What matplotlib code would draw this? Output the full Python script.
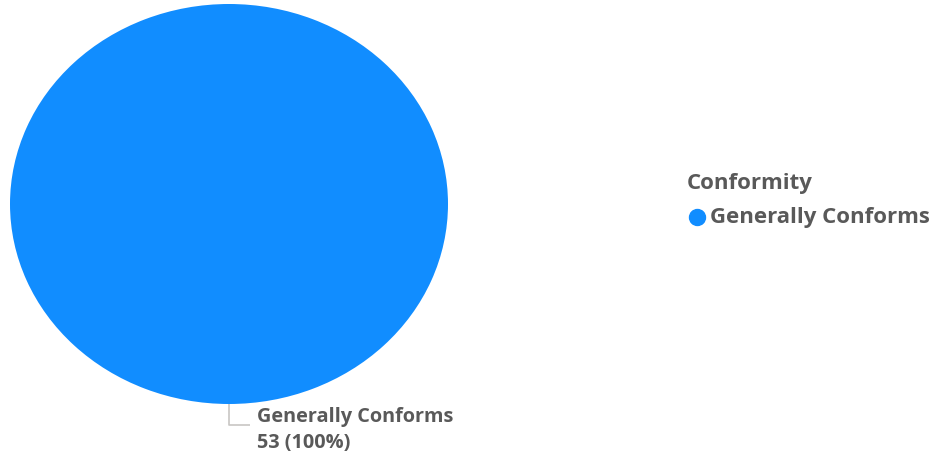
import numpy as np
import matplotlib
matplotlib.use("Agg")
import matplotlib.pyplot as plt

categories = ["Generally Conforms"]
values = [53]
legend_title = "Conformity"
colors = ["#118DFF"]

W, H = 933, 453
fig = plt.figure(figsize=(W / 100, H / 100), dpi=100)
fig.patch.set_facecolor("white")

# pie axes (pixel box -> figure coords)
left, right, top, bottom = 10, 448, 4, 404
ax = fig.add_axes([left / W, 1 - bottom / H, (right - left) / W, (bottom - top) / H])
wedges, _ = ax.pie(values, colors=colors, startangle=90, counterclock=False,
                   radius=1.0, wedgeprops=dict(linewidth=0))
ax.set_aspect("auto")
ax.set_xlim(-1, 1)
ax.set_ylim(-1, 1)
ax.axis("off")

text_color = "#595959"
total = sum(values)
font = ["Open Sans", "DejaVu Sans"]

# data label with leader line
for w, cat, v in zip(wedges, categories, values):
    mid = np.deg2rad((w.theta1 + w.theta2) / 2)
    x0, y0 = np.cos(mid), np.sin(mid)
    if v == total:
        x0, y0 = 0.0, -1.0
    ax.plot([x0, x0, x0 + 0.096], [y0, y0 - 0.105, y0 - 0.105], color="#C8C6C4",
            lw=1.2, clip_on=False, solid_capstyle="butt")
    ax.annotate(f"{cat}\n{v} ({v / total:.0%})", xy=(x0 + 0.13, y0 - 0.015),
                xycoords="data", ha="left", va="top", fontsize=14.3,
                color=text_color, fontweight="bold", family=font,
                linespacing=1.38, annotation_clip=False)

# legend
fig.text(687 / W, 1 - 183 / H, legend_title, ha="left", va="center", fontsize=16,
         color=text_color, fontweight="bold", family=font)
for i, (cat, c) in enumerate(zip(categories, colors)):
    yy = 1 - (217 + i * 26) / H
    fig.lines.append(plt.Line2D([697 / W], [yy], marker="o", markersize=11.5,
                                color=c, transform=fig.transFigure, linestyle="none"))
    fig.text(710 / W, yy, cat, ha="left", va="center", fontsize=16,
             color=text_color, fontweight="bold", family=font)

fig.savefig("out.png", dpi=100, facecolor="white")
